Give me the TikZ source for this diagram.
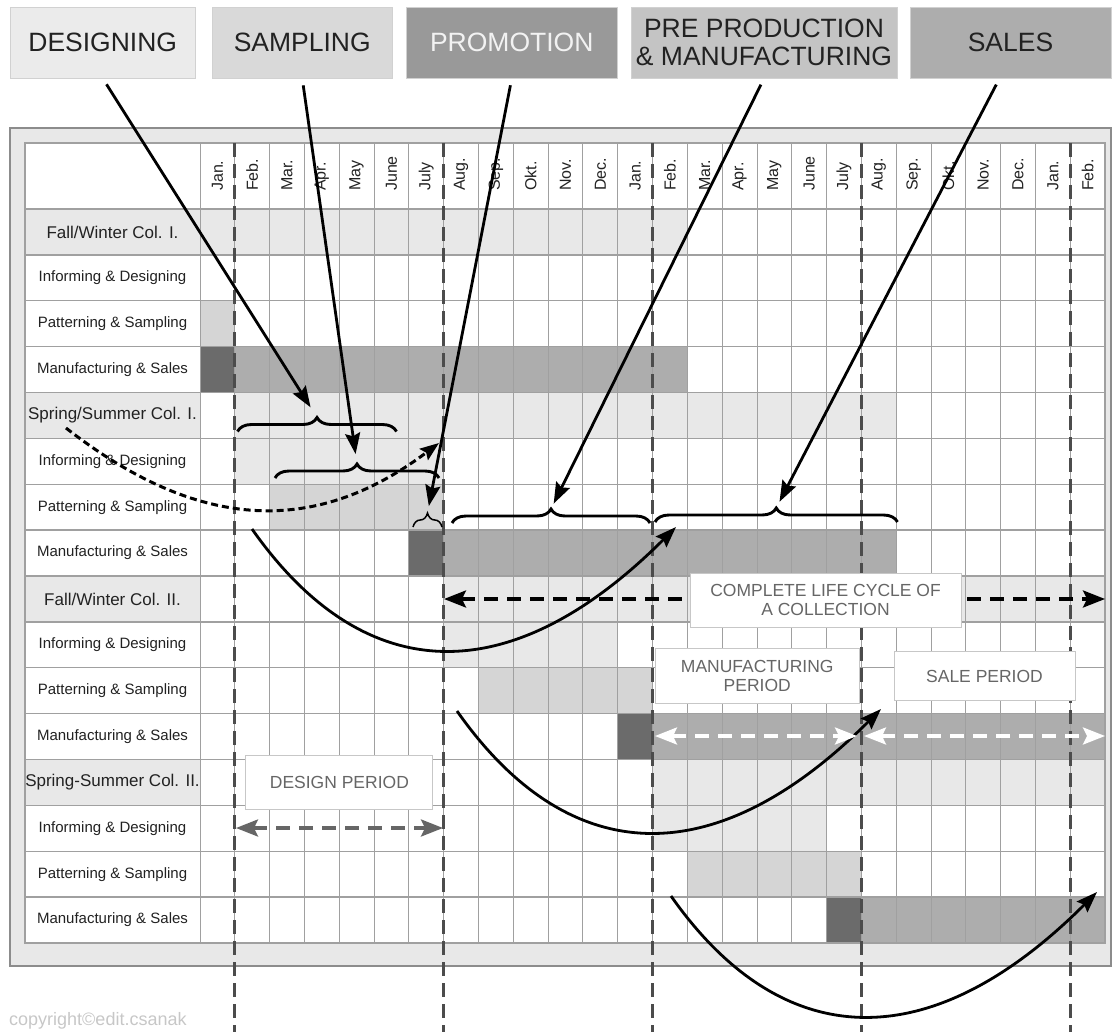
\documentclass[tikz,border=0pt]{standalone}
\usepackage{fontspec}
\setmainfont{Liberation Sans}
\usetikzlibrary{arrows.meta,decorations.pathreplacing}

\definecolor{lite}{HTML}{E8E8E8}
\definecolor{midg}{HTML}{D5D5D5}
\definecolor{medg}{HTML}{ADADAD}
\definecolor{darkg}{HTML}{6B6B6B}
\definecolor{gridg}{HTML}{A0A0A0}
\definecolor{ink}{HTML}{222222}
\definecolor{soft}{HTML}{666666}

\begin{document}
\begin{tikzpicture}[x=1pt,y=-1pt,
  topbox/.style={draw=black!18,line width=.8pt,inner sep=0pt,minimum height=71pt,align=center,text=ink,font=\fontsize{26.5}{28}\selectfont},
  perbox/.style={draw=black!22,fill=white,line width=1pt,inner sep=0pt,align=center,text=soft,font=\fontsize{17.5}{19}\selectfont},
  collab/.style={text=ink,font=\fontsize{17}{19}\selectfont},
  sublab/.style={text=ink,font=\fontsize{15}{17}\selectfont},
  monthlab/.style={rotate=90,anchor=west,inner sep=0pt,text=ink,font=\fontsize{16}{18}\selectfont},
  yearline/.style={draw=black!70,line width=3pt,dash pattern=on 14pt off 7pt},
  brc/.style={decorate,decoration={brace,amplitude=14pt},line width=2.9pt},
  ptr/.style={line width=2.8pt,-{Stealth[length=21pt,width=15pt,inset=3pt]}},
  period/.style={line width=3.2pt,dash pattern=on 14pt off 9pt,{Stealth[length=22pt,width=17pt,inset=4pt]}-{Stealth[length=22pt,width=17pt,inset=4pt]}}
]
\useasboundingbox (0,0) rectangle (1113,1032);

% the five phases
\node[topbox,fill=black!8,minimum width=185.5pt] (designing) at (102.75,42.5) {DESIGNING};
\node[topbox,fill=black!15,minimum width=179.5pt] (sampling) at (302.25,42.5) {SAMPLING};
\node[topbox,fill=black!40,minimum width=210.5pt,text=black!5] (promotion) at (511.75,42.5) {PROMOTION};
\node[topbox,fill=black!23,minimum width=266pt] (preprod) at (764,42.5) {PRE PRODUCTION\\\& MANUFACTURING};
\node[topbox,fill=black!32,minimum width=201pt] (sales) at (1010.5,42.5) {SALES};

% table
\draw[draw=black!45,fill=black!9,line width=1.5pt] (10,128) rectangle (1111,966);
\fill[white] (25,143) rectangle (1105,943);

\foreach \rw/\ca/\cb/\cl in {1/1/14/lite,3/1/1/midg,4/1/1/darkg,4/2/14/medg,5/2/20/lite,6/2/7/lite,7/3/7/midg,8/7/7/darkg,8/8/20/medg,9/8/26/lite,10/8/12/lite,11/9/13/midg,12/13/13/darkg,12/14/26/medg,13/14/26/lite,14/14/18/lite,15/15/19/midg,16/19/19/darkg,16/20/26/medg}
  \fill[\cl] ({200+(\ca-1)*34.81},{209+(\rw-1)*45.875}) rectangle ({200+\cb*34.81},{209+\rw*45.875});
\foreach \rw in {1,5,9,13}
  \fill[lite] (25,{209+(\rw-1)*45.875}) rectangle (200,{209+\rw*45.875});

\foreach \i in {0,...,26}
  \draw[gridg,line width=.9pt] ({200+\i*34.81},143) -- ({200+\i*34.81},943);
\foreach \rw in {0,...,16}
  \draw[gridg,line width=1.3pt] (25,{209+\rw*45.875}) -- (1105,{209+\rw*45.875});
\draw[gridg,line width=1.3pt] (25,143) rectangle (1105,943);

\foreach \m [count=\i] in {Jan.,Feb.,Mar.,Apr.,May,June,July,Aug.,Sep.,Okt.,Nov.,Dec.,Jan.,Feb.,Mar.,Apr.,May,June,July,Aug.,Sep.,Okt.,Nov.,Dec.,Jan.,Feb.}
  \node[monthlab] (m\i) at ({200+(\i-.5)*34.81},191) {\m};

\foreach \name [count=\k from 0] in {{Fall/Winter Col. I.},{Spring/Summer Col. I.},{Fall/Winter Col. II.},{Spring-Summer Col. II.}}
{
  \node[collab] (col\k) at (112.5,{209+(4*\k+.5)*45.875}) {\name};
  \node[sublab] (inf\k) at (112.5,{209+(4*\k+1.5)*45.875}) {Informing \& Designing};
  \node[sublab] (pat\k) at (112.5,{209+(4*\k+2.5)*45.875}) {Patterning \& Sampling};
  \node[sublab] (man\k) at (112.5,{209+(4*\k+3.5)*45.875}) {Manufacturing \& Sales};
}

% year borders
\foreach \k in {1,7,13,19,25}
  \draw[yearline] ({200+\k*34.81},143) -- ({200+\k*34.81},1032);

% braces
\draw[brc] (237.5,431.5) -- (396.5,431.5);
\draw[brc] (275,478) -- (439,478);
\draw[brc,line width=1.5pt] (413,527) -- (442,527);
\draw[brc] (452,523) -- (650,523);
\draw[brc] (655,522) -- (897.5,522);
\coordinate (b1) at (317,417.5);
\coordinate (b2) at (357,464);
\coordinate (b3) at (427.5,513);
\coordinate (b4) at (551,509);
\coordinate (b5) at (776.25,508);

\draw[ptr,shorten <=7pt,shorten >=12pt] (designing.south) -- (b1);
\draw[ptr,shorten <=7pt,shorten >=10pt] (sampling.south) -- (b2);
\draw[ptr,shorten <=7pt,shorten >=7pt] (promotion.south) -- (b3);
\draw[ptr,shorten <=7pt,shorten >=6pt] (preprod.south) -- (b4);
\draw[ptr,shorten <=7pt,shorten >=7pt] ([xshift=-11pt]sales.south) -- (b5);

% from one collection to the next
\coordinate (ss1) at (66,428);
\coordinate (ss2) at (439,443);
\draw[line width=3pt,dash pattern=on 7pt off 4pt,-{Stealth[length=19pt,width=14pt,inset=3pt]}] (ss1) .. controls +(127,99) and +(-129,97) .. (ss2);

\coordinate (ca1) at (252,529); \coordinate (ca2) at (676,527);
\coordinate (cb1) at (457,711); \coordinate (cb2) at (881,709);
\coordinate (cc1) at (671,896); \coordinate (cc2) at (1097,892);
\foreach \s/\e in {ca1/ca2,cb1/cb2,cc1/cc2}
  \draw[ptr] (\s) .. controls +(111,158) and +(-167,167) .. (\e);

% periods
\coordinate (lc1) at (444,599); \coordinate (lc2) at (1105,599);
\draw[period] (lc1) -- (lc2);
\coordinate (mp1) at (655,736); \coordinate (mp2) at (857,736);
\coordinate (sp1) at (864,736); \coordinate (sp2) at (1105,736);
\draw[period,white] (mp1) -- (mp2);
\draw[period,white] (sp1) -- (sp2);
\coordinate (dp1) at (236,828); \coordinate (dp2) at (443,828);
\draw[period,soft] (dp1) -- (dp2);

\node[perbox,minimum width=271pt,minimum height=54pt] (lifecycle) at (825.5,600) {COMPLETE LIFE CYCLE OF\\A COLLECTION};
\node[perbox,minimum width=203.5pt,minimum height=55pt] (manuper) at (757.25,675.5) {MANUFACTURING\\PERIOD};
\node[perbox,minimum width=181pt,minimum height=49pt] (saleper) at (984.5,676.2) {SALE PERIOD};
\node[perbox,minimum width=187pt,minimum height=54pt] (designper) at (339.4,782) {DESIGN PERIOD};

\node[anchor=west,inner sep=0pt,text=black!22,font=\fontsize{18}{20}\selectfont] (copyr) at (9,1021) {copyright©edit.csanak};
\end{tikzpicture}
\end{document}
